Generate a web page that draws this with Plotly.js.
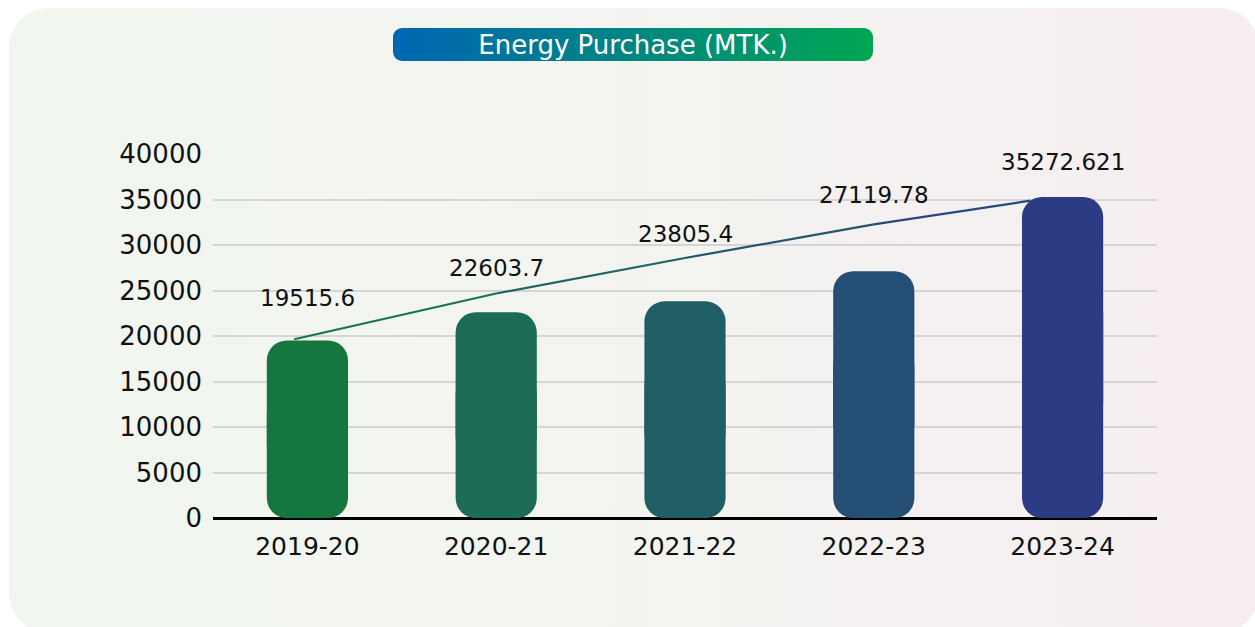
<!DOCTYPE html>
<html>
<head>
<meta charset="utf-8">
<script src="https://cdn.plot.ly/plotly-3.0.1.min.js"></script>
<style>
  html, body { margin: 0; padding: 0; background: #ffffff; }
  #wrap { position: relative; width: 1255px; height: 627px; overflow: hidden; }
  #bg { position: absolute; left: 9px; top: 8px; width: 1250px; height: 625px; border-radius: 40px;
        background: linear-gradient(90deg, #f1f6ef 0%, #f3f4f0 50%, #f6edf1 100%); }
  #pill { position: absolute; left: 393px; top: 28px; width: 480px; height: 33px; border-radius: 9px;
          background: linear-gradient(90deg, #0066b3 0%, #00a651 100%); }
  #chart { position: absolute; left: 0; top: 0; width: 1255px; height: 627px; }
</style>
</head>
<body>
<div id="wrap">
  <div id="bg"></div>
  <div id="pill"></div>
  <div id="chart"></div>
</div>
<script>
// ---- data ----
const categories = ['2019-20', '2020-21', '2021-22', '2022-23', '2023-24'];
const values = [19515.6, 22603.7, 23805.4, 27119.78, 35272.621];
const labels = ['19515.6', '22603.7', '23805.4', '27119.78', '35272.621'];
const trendPos = [-0.07, 1, 2, 3, 3.83];
const trendValues = [19640, 24670, 28570, 32270, 34870];
const yTicks = [0, 5000, 10000, 15000, 20000, 25000, 30000, 35000, 40000];

// ---- styles ----
const barColors = ['#16763f', '#1b6b55', '#205e66', '#244e73', '#2c3c84'];
const lineStart = [23, 122, 72], lineEnd = [44, 62, 132];
const labelShift = [42, 44, 67, 76, 35];
const FONT = 'DejaVu Sans';

function mix(a, b, t) {
  return 'rgb(' + a.map((v, i) => Math.round(v + (b[i] - v) * t)).join(',') + ')';
}

const traces = [];
// upper part of bars: rounded at top
traces.push({
  type: 'bar', x: categories,
  base: values.map(v => v * 0.3), y: values.map(v => v * 0.7),
  width: 0.43, marker: { color: barColors, cornerradius: 20, line: { width: 0 } },
  hoverinfo: 'skip', showlegend: false
});
// lower part of bars: rounded at bottom
traces.push({
  type: 'bar', x: categories,
  base: values.map(v => v * 0.7), y: values.map(v => -v * 0.7),
  width: 0.43, marker: { color: barColors, cornerradius: 20, line: { width: 0 } },
  hoverinfo: 'skip', showlegend: false
});
// trend line drawn as coloured segments
for (let i = 0; i < trendPos.length - 1; i++) {
  traces.push({
    type: 'scatter', mode: 'lines', xaxis: 'x2', yaxis: 'y',
    x: [trendPos[i], trendPos[i + 1]], y: [trendValues[i], trendValues[i + 1]],
    line: { color: mix(lineStart, lineEnd, (i + 0.5) / (trendPos.length - 1)), width: 2.2 },
    hoverinfo: 'skip', showlegend: false
  });
}

const annotations = categories.map((c, i) => ({
  x: c, y: values[i], xref: 'x', yref: 'y', text: labels[i], showarrow: false,
  yshift: labelShift[i], font: { family: FONT, size: 23, color: '#111111' }
}));

const layout = {
  width: 1255, height: 627,
  margin: { l: 213, r: 98, t: 154, b: 109 },
  paper_bgcolor: 'rgba(0,0,0,0)', plot_bgcolor: 'rgba(0,0,0,0)',
  barmode: 'overlay',
  title: {
    text: 'Energy Purchase (MTK.)',
    font: { family: FONT, size: 26, color: '#ffffff' },
    xref: 'paper', x: 0.445, xanchor: 'center',
    yref: 'container', y: 1 - 45 / 627, yanchor: 'middle'
  },
  xaxis: {
    type: 'category', range: [-0.5, 4.5], showgrid: false, zeroline: false,
    showline: false, ticks: '', ticklabelstandoff: 11,
    tickfont: { family: FONT, size: 25, color: '#111111' }
  },
  xaxis2: { overlaying: 'x', range: [-0.5, 4.5], visible: false, showgrid: false, zeroline: false },
  yaxis: {
    range: [0, 40000], tickvals: yTicks, ticktext: yTicks.map(String),
    showgrid: true, gridcolor: '#d5d5d5', gridwidth: 2,
    zeroline: true, zerolinecolor: '#000000', zerolinewidth: 3,
    showline: false, ticks: '', ticklabelstandoff: 10,
    tickfont: { family: FONT, size: 26, color: '#111111' }
  },
  annotations: annotations,
  showlegend: false
};

Plotly.newPlot('chart', traces, layout, { displayModeBar: false, staticPlot: true });
</script>
</body>
</html>
